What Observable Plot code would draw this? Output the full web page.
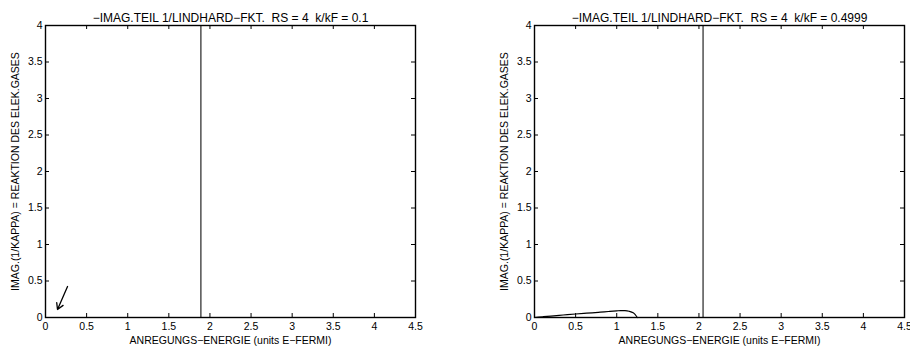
<!DOCTYPE html>
<html>
<head>
<meta charset="utf-8">
<script src="https://cdn.jsdelivr.net/npm/d3@7"></script>
<script src="https://cdn.jsdelivr.net/npm/@observablehq/plot@0.6"></script>
<style>
  html, body { margin: 0; padding: 0; background: white; }
  #row { display: flex; flex-direction: row; width: 910px; height: 347px; }
</style>
</head>
<body>
<div id="row"></div>
<script>
// ---- data ----
const xTicks = [0, 0.5, 1, 1.5, 2, 2.5, 3, 3.5, 4, 4.5];
const yTicks = [0, 0.5, 1, 1.5, 2, 2.5, 3, 3.5, 4];
const xLabel = "ANREGUNGS\u2212ENERGIE (units E\u2212FERMI)";
const yLabel = "IMAG.(1/KAPPA) = REAKTION DES ELEK.GASES";

const leftTitle = "\u2212IMAG.TEIL 1/LINDHARD\u2212FKT.  RS = 4  k/kF = 0.1";
const leftVLine = [1.89];
const leftArrow = [{x1: 0.268, y1: 0.425, x2: 0.146, y2: 0.11}];

const rightTitle = "\u2212IMAG.TEIL 1/LINDHARD\u2212FKT.  RS = 4  k/kF = 0.4999";
const rightVLine = [2.05];
const rightCurveX = [0, 0.1, 0.2, 0.3, 0.4, 0.5, 0.6, 0.7, 0.8, 0.9, 1.0, 1.05, 1.1, 1.15, 1.2, 1.225, 1.25];
const rightCurveY = [0, 0.01, 0.02, 0.03, 0.039, 0.048, 0.056, 0.064, 0.073, 0.082, 0.091, 0.095, 0.094, 0.086, 0.064, 0.04, 0];

// ---- drawing ----
const H = 347, MT = 25, MB = 30;
const innerH = H - MT - MB;
const fmt = d => String(d);

function panel({width, marginLeft, marginRight, title, vline, extra}) {
  const innerW = width - marginLeft - marginRight;
  return Plot.plot({
    width, height: H,
    marginLeft, marginRight, marginTop: MT, marginBottom: MB,
    style: {fontFamily: "'Liberation Sans', Arial, Helvetica, sans-serif", fontSize: "10.5px", background: "white", color: "black"},
    x: {domain: [0, 4.5]},
    y: {domain: [0, 4]},
    marks: [
      Plot.axisX({ticks: xTicks, tickSize: 0, tickPadding: 5, tickFormat: fmt, label: xLabel, labelAnchor: "center", labelOffset: 26, labelArrow: "none", fontSize: 10.5}),
      Plot.axisY({ticks: yTicks, tickSize: 0, tickPadding: 3, tickFormat: fmt, label: yLabel, labelAnchor: "center", labelOffset: 34, labelArrow: "none", fontSize: 10.5}),
      // inward ticks
      Plot.tickX(xTicks, {x: d => d, insetTop: innerH - 4, stroke: "black"}),
      Plot.tickX(xTicks, {x: d => d, insetBottom: innerH - 4, stroke: "black"}),
      Plot.tickY(yTicks, {y: d => d, insetRight: innerW - 4, stroke: "black"}),
      Plot.tickY(yTicks, {y: d => d, insetLeft: innerW - 4, stroke: "black"}),
      Plot.ruleX(vline, {stroke: "#111", strokeWidth: 1.1}),
      ...extra,
      Plot.frame({stroke: "black", strokeWidth: 1.4}),
      Plot.text([title], {frameAnchor: "top", dy: -12, fontSize: 12})
    ]
  });
}

const row = document.getElementById("row");
row.appendChild(panel({
  width: 455, marginLeft: 45, marginRight: 40,
  title: leftTitle, vline: leftVLine,
  extra: [Plot.arrow(leftArrow, {x1: "x1", y1: "y1", x2: "x2", y2: "y2", stroke: "black", strokeWidth: 1.3, headLength: 8})]
}));
row.appendChild(panel({
  width: 455, marginLeft: 79, marginRight: 6,
  title: rightTitle, vline: rightVLine,
  extra: [Plot.line(rightCurveX.map((x, i) => ({x, y: rightCurveY[i]})), {x: "x", y: "y", stroke: "black", strokeWidth: 1.2, curve: "monotone-x"})]
}));
</script>
</body>
</html>
